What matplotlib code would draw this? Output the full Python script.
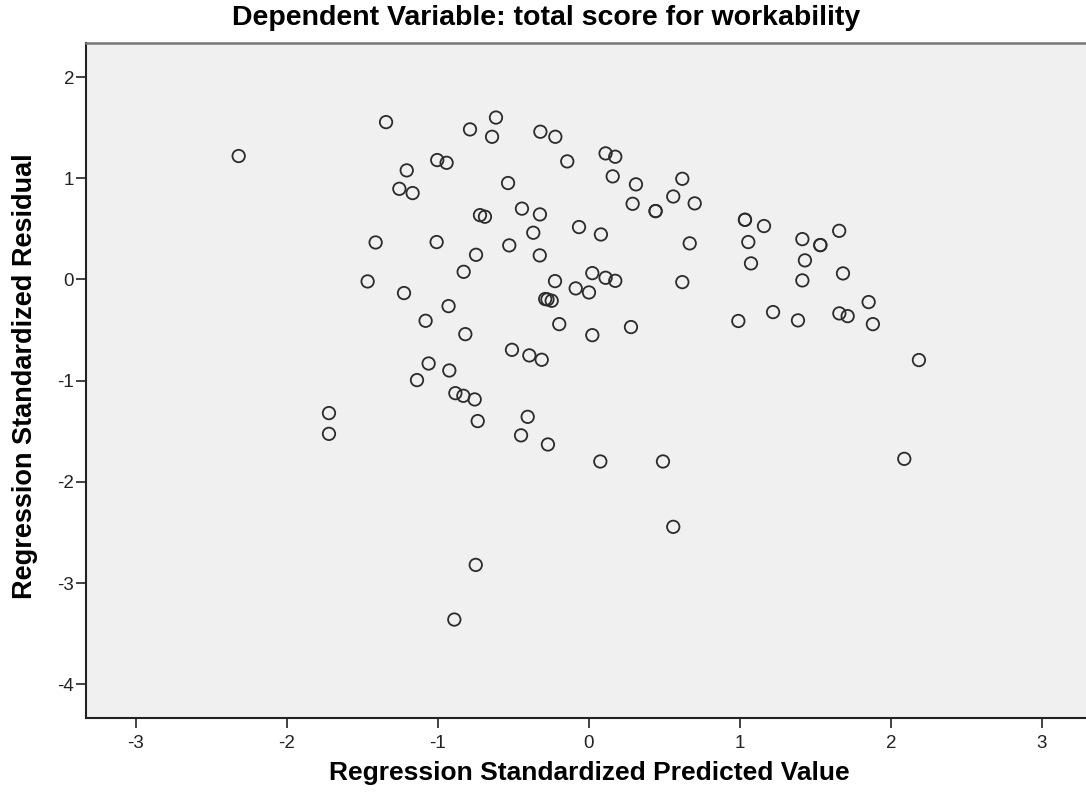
import matplotlib
matplotlib.use("Agg")
import matplotlib.pyplot as plt

plt.rcParams['font.family'] = ['Liberation Sans', 'DejaVu Sans']
plt.rcParams['axes.unicode_minus'] = False

title = "Dependent Variable: total score for workability"
x_label = "Regression Standardized Predicted Value"
y_label = "Regression Standardized Residual"

predicted = [
    -2.32, -1.344, -0.788, -0.616, -0.642, -1.005, -0.943, -1.207, -1.256, -1.168,
    -0.722, -0.689, -1.413, -1.009, -0.748, -0.830, -1.466, -1.225, -0.930,
    -0.322, -0.223, -0.144, 0.110, 0.174, 0.157, 0.311, 0.618, 0.558, 0.700,
    0.289, 0.441, 0.441, -0.536, -0.444, -0.325, -0.369, -0.528, -0.326,
    -0.066, 0.079, 0.667, 1.033, 1.033, 1.159, 1.055, 1.073, 0.618, -0.225,
    0.022, 0.110, 0.174, -0.088, 0.000, -0.290, -0.275, -0.247,
    1.413, 1.532, 1.532, 1.657, 1.430, 1.413, 1.682, 0.989, 1.219, 1.384,
    1.658, 1.713, 1.852, 1.880, 2.185, 2.088,
    -1.082, -0.819, -1.062, -0.925, -1.139, -0.885, -0.832, -0.757, -0.737,
    -1.722, -1.722,
    -0.197, 0.022, 0.278, -0.510, -0.395, -0.313, -0.406, -0.450, -0.272,
    0.075, 0.490, 0.558, -0.750, -0.892,
]
residual = [
    1.22, 1.555, 1.483, 1.600, 1.410, 1.180, 1.153, 1.078, 0.896, 0.854,
    0.636, 0.620, 0.366, 0.370, 0.244, 0.076, -0.019, -0.134, -0.263,
    1.460, 1.410, 1.167, 1.246, 1.213, 1.019, 0.940, 0.995, 0.820, 0.752,
    0.748, 0.676, 0.676, 0.953, 0.700, 0.643, 0.462, 0.337, 0.238,
    0.518, 0.445, 0.357, 0.590, 0.590, 0.528, 0.370, 0.159, -0.026, -0.016,
    0.063, 0.017, -0.013, -0.088, -0.128, -0.193, -0.197, -0.210,
    0.399, 0.340, 0.340, 0.481, 0.189, -0.009, 0.060, -0.410, -0.322, -0.404,
    -0.335, -0.362, -0.223, -0.441, -0.796, -1.772,
    -0.408, -0.540, -0.830, -0.899, -0.994, -1.123, -1.149, -1.185, -1.399,
    -1.320, -1.525,
    -0.441, -0.550, -0.470, -0.695, -0.750, -0.793, -1.357, -1.540, -1.630,
    -1.798, -1.798, -2.444, -2.820, -3.360,
]
x_ticks = [-3, -2, -1, 0, 1, 2, 3]
y_ticks = [-4, -3, -2, -1, 0, 1, 2]

fig = plt.figure(figsize=(10.86, 8.05), dpi=100)
ax = fig.add_axes([0.0792, 0.1084, 0.9263, 0.8381])
ax.set_facecolor('#f0f0f0')
ax.scatter(predicted, residual, s=80, facecolors='none', edgecolors='#2b2b2b', linewidths=1.3)
ax.set_xlim(-3.331, 3.331)
ax.set_ylim(-4.33, 2.336)
ax.set_xticks(x_ticks)
ax.set_yticks(y_ticks)
ax.tick_params(direction='out', length=7.5, width=1.2, labelsize=13.5, colors='#222222')
ax.tick_params(axis='x', pad=5)
ax.tick_params(axis='y', pad=1)
for s in ['left', 'bottom']:
    ax.spines[s].set_color('#222222')
    ax.spines[s].set_linewidth(1.5)
ax.spines['top'].set_color('#777777')
ax.spines['top'].set_linewidth(1.8)
ax.spines['right'].set_visible(False)

fig.text(546 / 1086, 1 - 18 / 805, title, fontsize=20.5, fontweight='bold',
         ha='center', va='center')
fig.text(589 / 1086, 1 - 773 / 805, x_label, fontsize=19, fontweight='bold',
         ha='center', va='center')
fig.text(25 / 1086, 1 - 376 / 805, y_label, fontsize=19.5, fontweight='bold',
         ha='center', va='center', rotation=90)
fig.savefig('out.png', dpi=100)
